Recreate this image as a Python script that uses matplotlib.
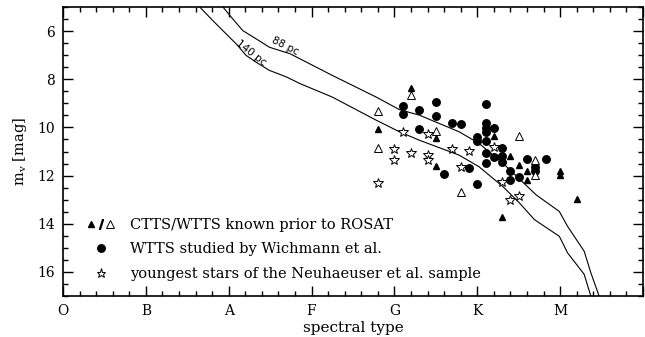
import matplotlib
matplotlib.use('Agg')
import matplotlib.pyplot as plt
from matplotlib.lines import Line2D
from matplotlib.legend_handler import HandlerTuple
from matplotlib.ticker import MultipleLocator

plt.rcParams['font.family'] = 'DejaVu Serif'
plt.rcParams['mathtext.fontset'] = 'dejavuserif'

# spectral type as a number: O=0, B=1, A=2, F=3, G=4, K=5, M=6
SPEC_TYPES = ['O', 'B', 'A', 'F', 'G', 'K', 'M']

# main sequence shifted to 88 pc and 140 pc
ms88_sp = [1.93, 2.05, 2.17, 2.33, 2.49, 2.74, 3.25, 3.78, 4.06, 4.30, 4.78,
           5.02, 5.31, 5.71, 5.99, 6.09, 6.29, 6.37, 6.47]
ms88_mv = [5.0, 5.50, 5.98, 6.32, 6.67, 6.94, 7.84, 8.74, 9.26, 9.49, 10.18,
           10.66, 11.49, 12.80, 13.49, 14.11, 15.14, 16.03, 17.0]
ms140_sp = [1.65, 1.81, 1.97, 2.09, 2.21, 2.33, 2.49, 2.70, 2.86, 3.25, 3.78,
            4.06, 4.30, 4.78, 5.02, 5.31, 5.51, 5.69, 5.99, 6.09, 6.29, 6.37]
ms140_mv = [5.0, 5.57, 6.12, 6.53, 7.01, 7.29, 7.63, 7.91, 8.18, 8.74, 9.70,
            10.18, 10.53, 11.15, 11.63, 12.46, 13.14, 13.83, 14.52, 15.21, 16.10, 17.0]

# CTTS known prior to ROSAT
ctts_sp = [4.2, 3.8, 4.5, 4.5, 5.2, 5.4, 5.5, 5.6, 5.6, 6.0, 6.0, 6.2, 5.3]
ctts_mv = [8.35, 10.08, 10.44, 11.62, 10.36, 11.17, 11.58, 11.83, 12.18, 11.79,
           11.99, 12.96, 13.72]

# WTTS known prior to ROSAT
wtts_sp = [4.2, 3.8, 3.8, 4.5, 4.8, 5.5, 5.7, 5.7]
wtts_mv = [8.67, 9.33, 10.84, 10.13, 12.69, 10.36, 11.37, 11.97]

# WTTS studied by Wichmann et al.
wich_sp = [4.1, 4.1, 4.3, 4.3, 4.5, 4.5, 4.7, 4.8, 4.6, 4.9, 5.0, 5.1, 5.1, 5.1,
           5.1, 5.0, 5.0, 5.1, 5.2, 5.1, 5.1, 5.2, 5.3, 5.3, 5.3, 5.6, 5.4, 5.4,
           5.5, 5.7, 5.7, 5.83]
wich_mv = [9.11, 9.46, 9.26, 10.07, 8.95, 9.51, 9.80, 9.84, 11.93, 11.67, 12.36,
           9.01, 9.83, 10.04, 10.21, 10.38, 10.55, 10.55, 10.04, 11.07, 11.48,
           11.21, 10.87, 11.17, 11.45, 11.31, 11.83, 12.20, 12.07, 11.65, 11.83,
           11.31]

# youngest stars of the Neuhaeuser et al. sample
neu_sp = [3.8, 4.0, 4.0, 4.1, 4.2, 4.4, 4.4, 4.4, 4.7, 4.9, 4.8, 5.2, 5.3, 5.5, 5.4]
neu_mv = [12.29, 10.90, 11.35, 10.18, 11.05, 10.26, 11.14, 11.37, 10.88, 10.96,
          11.63, 10.80, 12.25, 12.84, 13.00]

legend_labels = ['CTTS/WTTS known prior to ROSAT',
                 'WTTS studied by Wichmann et al.',
                 'youngest stars of the Neuhaeuser et al. sample']

fig = plt.figure(figsize=(6.45, 3.37), dpi=100)
ax = fig.add_axes([63 / 645, 1 - 296 / 337, 580 / 645, 289 / 337])

ax.plot(ms88_sp, ms88_mv, color='k', lw=0.8)
ax.plot(ms140_sp, ms140_mv, color='k', lw=0.8)
ax.text(2.675, 6.61, '88 pc', fontsize=7.5, rotation=-27, ha='center', va='center',
        family='DejaVu Sans')
ax.text(2.273, 6.92, '140 pc', fontsize=7.5, rotation=-38, ha='center', va='center',
        family='DejaVu Sans')

ax.plot(neu_sp, neu_mv, ls='', marker='*', ms=7, mfc='white', mec='k', mew=0.7)
ax.plot(wich_sp, wich_mv, ls='', marker='o', ms=5.4, color='k')
ax.plot(ctts_sp, ctts_mv, ls='', marker='^', ms=5, color='k')
ax.plot(wtts_sp, wtts_mv, ls='', marker='^', ms=6, mfc='white', mec='k', mew=0.7)

h_tri = (Line2D([], [], ls='', marker='^', ms=4.5, color='k'),
         Line2D([], [], ls='', marker='$/$', ms=7, color='k'),
         Line2D([], [], ls='', marker='^', ms=6, mfc='white', mec='k', mew=0.7))
h_circ = Line2D([], [], ls='', marker='o', ms=5.4, color='k')
h_star = Line2D([], [], ls='', marker='*', ms=6.5, mfc='white', mec='k', mew=0.7)
ax.legend([h_tri, h_circ, h_star], legend_labels,
          handler_map={tuple: HandlerTuple(ndivide=None, pad=0.0)},
          loc='lower left', bbox_to_anchor=(0.041, 0.052), frameon=False,
          fontsize=10.5, handlelength=1.9, handletextpad=1.05, labelspacing=0.72,
          borderpad=0, borderaxespad=0)

ax.set_xlim(0, 7)
ax.set_ylim(17, 5)
ax.set_xticks(range(len(SPEC_TYPES) + 1))
ax.set_xticklabels(SPEC_TYPES + [''])
ax.xaxis.set_minor_locator(MultipleLocator(0.2))
ax.set_yticks([6, 8, 10, 12, 14, 16])
ax.yaxis.set_minor_locator(MultipleLocator(0.5))
ax.tick_params(which='both', direction='in', top=True, right=True, width=1.0,
               labelsize=10)
ax.tick_params(which='major', length=7, pad=6)
ax.tick_params(which='minor', length=3.5)
for sp in ax.spines.values():
    sp.set_linewidth(1.2)

ax.set_xlabel('spectral type', fontsize=11, labelpad=2)
ax.set_ylabel('m$_{\\rm v}$ [mag]', fontsize=10.5, labelpad=6)

fig.savefig('out.png', dpi=100)
